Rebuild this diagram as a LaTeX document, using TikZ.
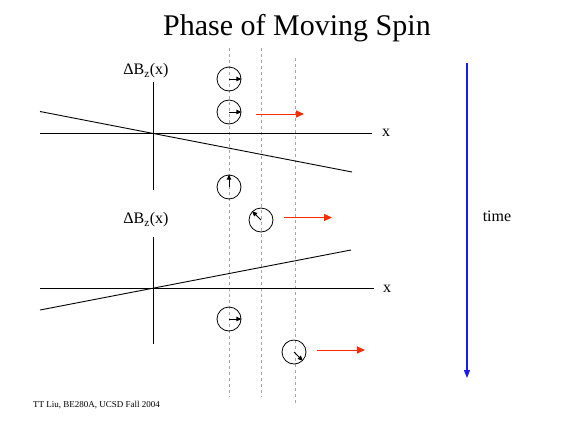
\documentclass[tikz,border=0pt]{standalone}
\usepackage{xcolor}
\definecolor{spinred}{HTML}{FF2A00}
\definecolor{timeblue}{HTML}{1A1AF0}
\usepackage{fontspec}
\setmainfont{Liberation Serif}
\usepackage{tikz}
\usetikzlibrary{arrows.meta,positioning,calc}

\begin{document}
\begin{tikzpicture}[x=1pt,y=-1pt,>=Triangle]
\tikzset{
 spin/.style={draw,circle,minimum size=24pt,inner sep=0pt,line width=0.8pt},
 moment/.style={-{Triangle[length=5pt,width=4.5pt]},line width=0.8pt},
 motion/.style={-{Triangle[length=8pt,width=7pt]},draw=spinred,line width=1pt},
 axis/.style={line width=0.9pt},
 guide/.style={dashed,draw=gray!70,line width=0.5pt},
 lbl/.style={font=\fontsize{16}{18}\selectfont,inner sep=0pt}
}
\useasboundingbox (0,0) rectangle (561,424);
\node[font=\fontsize{30}{36}\selectfont] (title) at (297,28) {Phase of Moving Spin};
% guide lines
\coordinate (g1t) at (229,48); \coordinate (g1b) at (229,397);
\coordinate (g2t) at (261,48); \coordinate (g2b) at (261,397);
\coordinate (g3t) at (295,58); \coordinate (g3b) at (295,405);
\draw[guide] (g1t)--(g1b);
\draw[guide] (g2t)--(g2b);
\draw[guide] (g3t)--(g3b);
% upper field
\coordinate (o1) at (153,133);
\coordinate (a1t) at (153,82); \coordinate (a1b) at (153,190);
\coordinate (a1l) at (40,133); \coordinate (a1r) at (372,133);
\coordinate (f1l) at (40,111.5); \coordinate (f1r) at (352,172);
\draw[axis] (a1t)--(a1b);
\draw[axis] (a1l)--(a1r);
\draw[axis] (f1l)--(f1r);
\node[lbl] (b1) at (146,71) {ΔB\textsubscript{z}(x)};
\node[lbl] (x1) at (386,133) {x};
% lower field
\coordinate (o2) at (153,288);
\coordinate (a2t) at (153,237); \coordinate (a2b) at (153,344);
\coordinate (a2l) at (40,288); \coordinate (a2r) at (374,288);
\coordinate (f2l) at (40,310); \coordinate (f2r) at (351,250);
\draw[axis] (a2t)--(a2b);
\draw[axis] (a2l)--(a2r);
\draw[axis] (f2l)--(f2r);
\node[lbl] (b2) at (146,220) {ΔB\textsubscript{z}(x)};
\node[lbl] (x2) at (387,289) {x};
% spins
\node[spin] (s1) at (229,79) {};
\node[spin] (s2) at (229,112) {};
\node[spin] (s3) at (229,187) {};
\node[spin] (s4) at (261,220) {};
\node[spin] (s5) at (229,319) {};
\node[spin] (s6) at (294,352) {};
\draw[moment] (s1.center)--(s1.east);
\draw[moment] (s2.center)--(s2.east);
\draw[moment] (s3.center)--(s3.north);
\draw[moment] (s4.center)--(s4.north west);
\draw[moment] (s5.center)--(s5.east);
\draw[moment] (s6.center)--(s6.south east);
% motion
\coordinate (m1a) at (256,114); \coordinate (m1b) at (304,114);
\coordinate (m2a) at (284,217.5); \coordinate (m2b) at (332,217.5);
\coordinate (m3a) at (317,350); \coordinate (m3b) at (365,350);
\draw[motion] (m1a)--(m1b);
\draw[motion] (m2a)--(m2b);
\draw[motion] (m3a)--(m3b);
% time
\coordinate (t1) at (467,63); \coordinate (t2) at (467,378);
\draw[-{Triangle[length=8pt,width=6pt]},draw=timeblue,fill=timeblue,line width=1.2pt] (t1)--(t2);
\node[lbl] (tm) at (497,216) {time};
\node[font=\fontsize{9}{11}\selectfont,anchor=west,inner sep=0pt] (foot) at (33,405) {TT Liu, BE280A, UCSD Fall 2004};
\end{tikzpicture}
\end{document}
